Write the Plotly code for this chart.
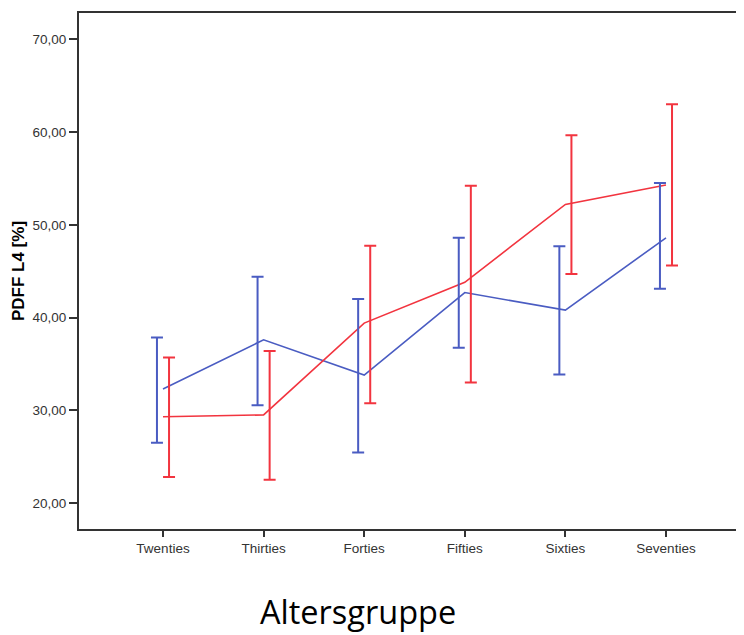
import numpy as np
import plotly.graph_objects as go

categories = ["Twenties", "Thirties", "Forties", "Fifties", "Sixties", "Seventies"]

blue_mean = [32.3, 37.6, 33.8, 42.7, 40.8, 48.6]
blue_upper = [37.85, 44.4, 42.0, 48.6, 47.7, 54.5]
blue_lower = [26.5, 30.55, 25.45, 36.75, 33.85, 43.1]

red_mean = [29.3, 29.5, 39.4, 43.8, 52.2, 54.3]
red_upper = [35.7, 36.4, 47.75, 54.2, 59.65, 63.0]
red_lower = [22.8, 22.5, 30.75, 33.0, 44.7, 45.6]

y_tickvals = [20, 30, 40, 50, 60, 70]
y_ticktext = ["20,00", "30,00", "40,00", "50,00", "60,00", "70,00"]

BLUE = "#4a5cc2"
RED = "#f2343f"
AXIS = "#333333"
FONT = "Arial, Liberation Sans, sans-serif"

xpos = np.arange(len(categories))
bm, bu, bl = map(np.array, (blue_mean, blue_upper, blue_lower))
rm, ru, rl = map(np.array, (red_mean, red_upper, red_lower))

fig = go.Figure()

# mean lines
fig.add_trace(go.Scatter(x=xpos, y=bm, mode="lines",
                         line=dict(color=BLUE, width=1.6), showlegend=False,
                         hoverinfo="skip"))
fig.add_trace(go.Scatter(x=xpos, y=rm, mode="lines",
                         line=dict(color=RED, width=1.6), showlegend=False,
                         hoverinfo="skip"))

# error bars (dodged)
fig.add_trace(go.Scatter(x=xpos - 0.06, y=bm, mode="markers",
                         marker=dict(size=1, opacity=0, color=BLUE),
                         error_y=dict(type="data", symmetric=False,
                                      array=bu - bm, arrayminus=bm - bl,
                                      color=BLUE, thickness=2, width=6),
                         showlegend=False))
fig.add_trace(go.Scatter(x=xpos + 0.06, y=rm, mode="markers",
                         marker=dict(size=1, opacity=0, color=RED),
                         error_y=dict(type="data", symmetric=False,
                                      array=ru - rm, arrayminus=rm - rl,
                                      color=RED, thickness=2, width=6),
                         showlegend=False))

fig.add_annotation(text="Altersgruppe", xref="paper", yref="paper",
                   x=(357.5 - 79) / 673, y=-0.16, xanchor="center", yanchor="middle",
                   showarrow=False,
                   font=dict(family="Open Sans, sans-serif", size=32.5, color="#000000"))

fig.update_layout(
    width=744, height=635,
    margin=dict(l=71, r=0, t=5, b=114),
    paper_bgcolor="white", plot_bgcolor="white",
    font=dict(family=FONT, size=13.5, color=AXIS),
    xaxis=dict(
        range=[-0.835, 5.855],
        tickvals=list(xpos), ticktext=categories,
        showgrid=False, zeroline=False,
        showline=True, linecolor=AXIS, linewidth=2, mirror=True,
        ticks="outside", ticklen=6, tickwidth=2, tickcolor=AXIS,
        tickfont=dict(family=FONT, size=13.5, color=AXIS),
    ),
    yaxis=dict(
        range=[17.2, 72.84],
        tickvals=y_tickvals, ticktext=y_ticktext,
        showgrid=False, zeroline=False,
        showline=True, linecolor=AXIS, linewidth=2,
        ticks="outside", ticklen=8, tickwidth=2, tickcolor=AXIS,
        tickfont=dict(family=FONT, size=13.5, color=AXIS),
        title=dict(text="<b>PDFF L4 [%]</b>", standoff=4,
                   font=dict(family=FONT, size=17, color="#000000")),
    ),
)

fig.write_html("out.html")
